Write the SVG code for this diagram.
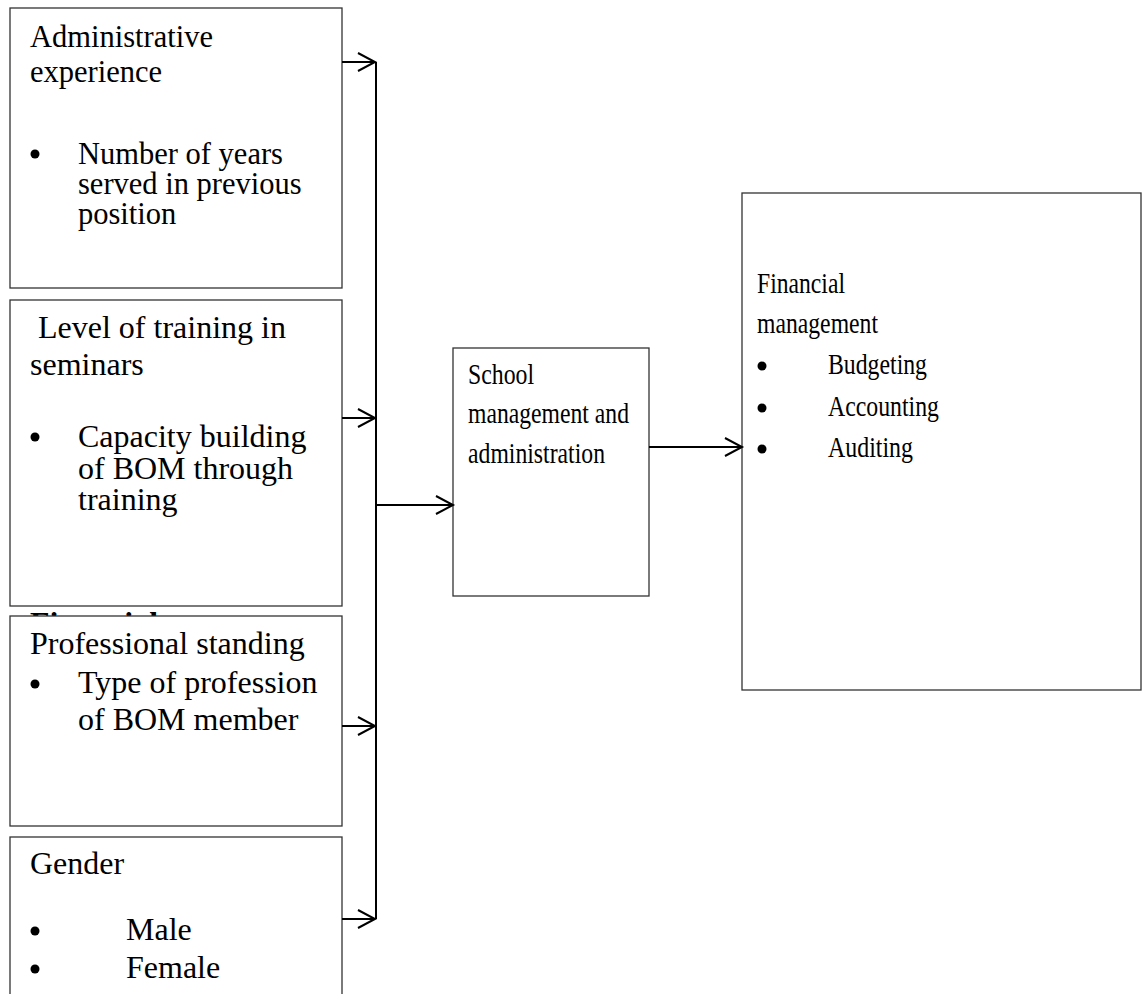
<svg xmlns="http://www.w3.org/2000/svg" width="1142" height="994" viewBox="0 0 1142 994">
<style>
text{font-family:"Liberation Serif","Times New Roman",serif;font-size:30.5px;fill:#000}
.big{font-size:32px}
.cond{font-size:30px}
.box{fill:#fff;stroke:#333;stroke-width:1.3}
.con{fill:none;stroke:#000;stroke-width:2}
.dot{fill:#000}
</style>
<defs>
<marker id="ah" markerUnits="userSpaceOnUse" markerWidth="24" markerHeight="24" viewBox="-20 -12 24 24" refX="0" refY="0" orient="auto">
<path d="M-17,-9 L0,0 L-17,9" fill="none" stroke="#000" stroke-width="2"/>
</marker>
</defs>
<rect width="1142" height="994" fill="#fff"/>
<text x="30" y="634" font-weight="bold" class="big">Financial</text>
<g id="n1">
<rect class="box" x="10" y="8" width="332" height="280"/>
<text x="30" y="47">Administrative</text>
<text x="30" y="82">experience</text>
<circle class="dot" cx="35" cy="154" r="4.5"/>
<text x="78" y="164">Number of years</text>
<text x="78" y="194">served in previous</text>
<text x="78" y="224">position</text>
</g>
<g id="n2" class="big">
<rect class="box" x="10" y="300" width="332" height="306"/>
<text class="big" x="30" y="338" xml:space="preserve"> Level of training in</text>
<text class="big" x="30" y="375">seminars</text>
<circle class="dot" cx="35" cy="437" r="4.5"/>
<text class="big" x="78" y="447">Capacity building</text>
<text class="big" x="78" y="479">of BOM through</text>
<text class="big" x="78" y="510">training</text>
</g>
<g id="n3">
<rect class="box" x="10" y="616" width="332" height="210"/>
<text class="big" x="30" y="654">Professional standing</text>
<circle class="dot" cx="35" cy="684" r="4.5"/>
<text class="big" x="78" y="693">Type of profession</text>
<text class="big" x="78" y="730">of BOM member</text>
</g>
<g id="n4">
<rect class="box" x="10" y="837" width="332" height="170"/>
<text class="big" x="30" y="874">Gender</text>
<circle class="dot" cx="35" cy="931" r="4.5"/>
<text class="big" x="126" y="940">Male</text>
<circle class="dot" cx="35" cy="969" r="4.5"/>
<text class="big" x="126" y="978">Female</text>
</g>
<g id="n5">
<rect class="box" x="453" y="348" width="196" height="248"/>
<text class="cond" x="468" y="384" textLength="66" lengthAdjust="spacingAndGlyphs">School</text>
<text class="cond" x="468" y="423" textLength="161" lengthAdjust="spacingAndGlyphs">management and</text>
<text class="cond" x="468" y="463" textLength="137" lengthAdjust="spacingAndGlyphs">administration</text>
</g>
<g id="n6">
<rect class="box" x="742" y="193" width="399" height="497"/>
<text class="cond" x="757" y="293" textLength="88" lengthAdjust="spacingAndGlyphs">Financial</text>
<text class="cond" x="757" y="333" textLength="121" lengthAdjust="spacingAndGlyphs">management</text>
<circle class="dot" cx="762" cy="366" r="4.5"/>
<text class="cond" x="828" y="374" textLength="99" lengthAdjust="spacingAndGlyphs">Budgeting</text>
<circle class="dot" cx="762" cy="408" r="4.5"/>
<text class="cond" x="828" y="416" textLength="111" lengthAdjust="spacingAndGlyphs">Accounting</text>
<circle class="dot" cx="762" cy="449" r="4.5"/>
<text class="cond" x="828" y="457" textLength="85" lengthAdjust="spacingAndGlyphs">Auditing</text>
</g>
<g id="connectors">
<line class="con" x1="376" y1="62" x2="376" y2="919"/>
<line class="con" x1="342" y1="62" x2="375" y2="62" marker-end="url(#ah)"/>
<line class="con" x1="342" y1="418" x2="375" y2="418" marker-end="url(#ah)"/>
<line class="con" x1="342" y1="726" x2="375" y2="726" marker-end="url(#ah)"/>
<line class="con" x1="342" y1="919" x2="375" y2="919" marker-end="url(#ah)"/>
<line class="con" x1="376" y1="505" x2="453" y2="505" marker-end="url(#ah)"/>
<line class="con" x1="649" y1="447" x2="742" y2="447" marker-end="url(#ah)"/>
</g>
</svg>
